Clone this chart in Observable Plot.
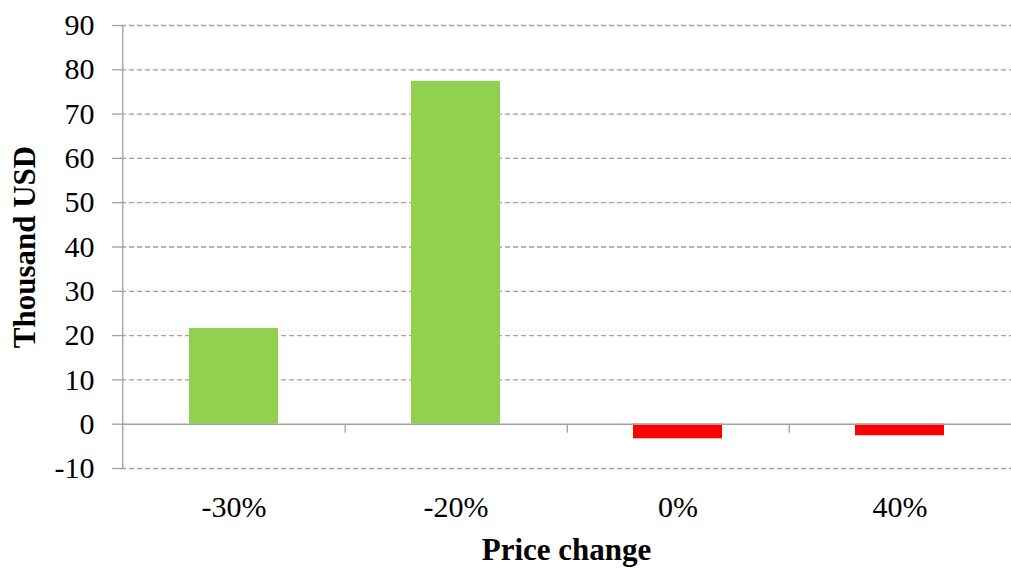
<!DOCTYPE html>
<html>
<head>
<meta charset="utf-8">
<script src="https://cdn.jsdelivr.net/npm/d3@7"></script>
<script src="https://cdn.jsdelivr.net/npm/@observablehq/plot@0.6"></script>
<style>
  html, body { margin: 0; padding: 0; background: #fff; }
  #chart svg { display: block; }
</style>
</head>
<body>
<div id="chart"></div>
<script>
// Profit / loss (thousand USD) for each price-change scenario
const categories = ["-30%", "-20%", "0%", "40%"];
const values = [21.6, 77.4, -3.3, -2.6];
const yTicks = [-10, 0, 10, 20, 30, 40, 50, 60, 70, 80, 90];

const data = categories.map((c, i) => ({ scenario: c, value: values[i] }));

const W = 1011, H = 568;
const mL = 121, mR = 0, mT = 25, mB = 100;
const yDomain = [-10, 90];
const step = (W - mL - mR) / categories.length;
const plotH = H - mT - mB;
const zeroFromBottom = plotH * (0 - yDomain[0]) / (yDomain[1] - yDomain[0]);

const font = "'Liberation Serif', 'Times New Roman', Times, serif";
const axisGray = "#a0a0a0";

const chart = Plot.plot({
  width: W,
  height: H,
  marginLeft: mL,
  marginRight: mR,
  marginTop: mT,
  marginBottom: mB,
  style: { fontFamily: font, fontSize: "30px", color: "#000", background: "#fff", overflow: "visible" },
  x: { domain: categories, paddingInner: 0.6, paddingOuter: 0.3, label: null },
  y: { domain: yDomain, ticks: yTicks, label: null },
  marks: [
    Plot.gridY(yTicks.filter(v => v !== 0), { stroke: axisGray, strokeOpacity: 1, strokeWidth: 1.3, strokeDasharray: "5,3" }),
    Plot.axisY({
      ticks: yTicks,
      tickSize: 9,
      tickPadding: 18,
      tickFormat: d => String(d),
      stroke: axisGray,
      strokeWidth: 1.3,
      fontSize: 30,
      label: null
    }),
    // vertical axis line along the left edge of the plot area
    Plot.ruleX([categories[0]], { dx: -step / 2, stroke: axisGray, strokeWidth: 1.3 }),
    Plot.barY(data, {
      x: "scenario",
      y: "value",
      fill: d => d.value >= 0 ? "#92D050" : "#FF0000"
    }),
    Plot.ruleY([0], { stroke: axisGray, strokeWidth: 1.5 }),
    // category labels
    Plot.axisX({ tickSize: 0, tickPadding: 27, fontSize: 30, label: null }),
    // separator ticks between categories, hanging from the zero line
    Plot.axisX({
      ticks: categories.slice(0, -1),
      tickSize: 9,
      tickFormat: () => "",
      stroke: axisGray,
      strokeWidth: 1.3,
      dx: step / 2,
      dy: -zeroFromBottom,
      label: null
    }),
    Plot.text(["Price change"], {
      frameAnchor: "bottom",
      dy: 82,
      lineAnchor: "middle",
      fontSize: 31,
      fontWeight: "bold"
    }),
    Plot.text(["Thousand USD"], {
      frameAnchor: "left",
      dx: -96,
      rotate: -90,
      lineAnchor: "middle",
      textAnchor: "middle",
      fontSize: 31,
      fontWeight: "bold"
    })
  ]
});

document.getElementById("chart").appendChild(chart);
</script>
</body>
</html>
